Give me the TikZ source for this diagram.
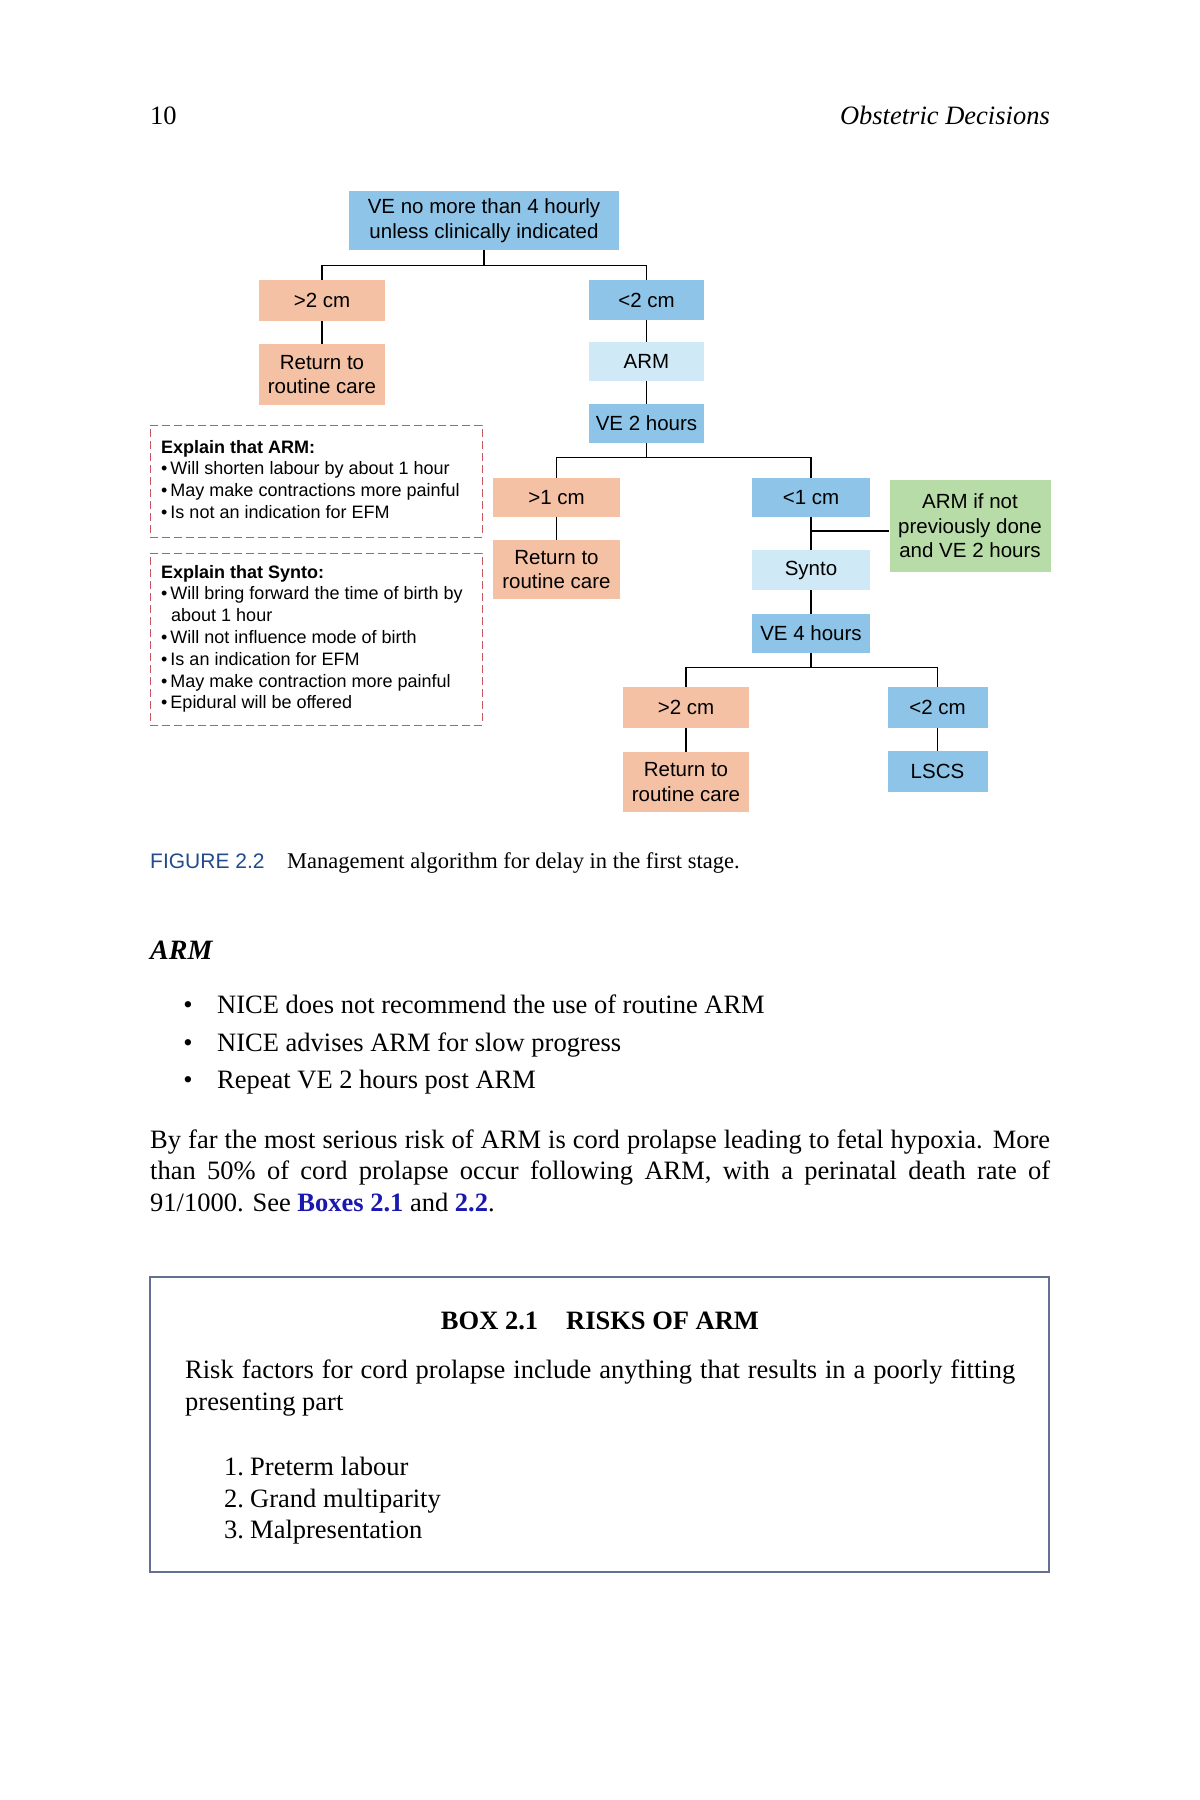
\documentclass[tikz,border=0pt]{standalone}
\usepackage{fontspec}
\setmainfont{Liberation Serif}
\newfontfamily\diagfont{Liberation Sans}
\definecolor{bbox}{RGB}{141,196,232}
\definecolor{sbox}{RGB}{244,193,165}
\definecolor{lbox}{RGB}{207,233,246}
\definecolor{gbox}{RGB}{184,220,167}
\definecolor{dashred}{RGB}{200,85,95}
\definecolor{figblue}{RGB}{35,75,140}
\definecolor{linkblue}{RGB}{25,25,175}
\definecolor{boxframe}{RGB}{100,112,145}
\begin{document}
\begin{tikzpicture}[x=1pt,y=-1pt,
  dbox/.style={inner sep=0pt, align=center, font=\diagfont\fontsize{20.5}{24.5}\selectfont, text=black},
  blueb/.style={dbox, fill=bbox},
  salb/.style={dbox, fill=sbox},
  lightb/.style={dbox, fill=lbox},
  greenb/.style={dbox, fill=gbox},
  conn/.style={draw=black, line width=1.3pt},
  dashbox/.style={draw=dashred, line width=1pt, dash pattern=on 8pt off 4pt, inner sep=0pt},
  note/.style={anchor=base west, inner sep=0pt, font=\diagfont\fontsize{18}{21.8}\selectfont},
  body/.style={inner sep=0pt, font=\fontsize{26.5}{31.6}\selectfont}
]
\fill[white] (0,0) rectangle (1200,1800);
\useasboundingbox (0,0) rectangle (1200,1800);

% header
\node[body, anchor=base west] (pgnum) at (150,124) {10};
\node[body, anchor=base east, font=\itshape\fontsize{26.5}{30}\selectfont] (runhead) at (1050,124) {Obstetric Decisions};

% flowchart boxes
\node[blueb, minimum width=270pt, minimum height=59pt] (top) at (484,220.5) {VE no more than 4 hourly\\unless clinically indicated};
\node[salb, minimum width=126pt, minimum height=41pt] (la) at (322,300.5) {>2 cm};
\node[salb, minimum width=126pt, minimum height=61pt] (lb) at (322,374.5) {Return to\\routine care};
\node[blueb, minimum width=115pt, minimum height=40pt] (ra) at (646.5,300) {<2 cm};
\node[lightb, minimum width=115pt, minimum height=39pt] (rb) at (646.5,361.5) {ARM};
\node[blueb, minimum width=115pt, minimum height=39pt] (rc) at (646.5,423.5) {VE 2 hours};
\node[salb, minimum width=127pt, minimum height=39pt] (ma) at (556.5,497.5) {>1 cm};
\node[salb, minimum width=127pt, minimum height=59pt] (mb) at (556.5,569.5) {Return to\\routine care};
\node[blueb, minimum width=118pt, minimum height=39pt] (na) at (811,497.5) {<1 cm};
\node[greenb, minimum width=161pt, minimum height=92pt] (gr) at (970,526) {ARM if not\\previously done\\and VE 2 hours};
\node[lightb, minimum width=118pt, minimum height=40pt] (syn) at (811,570) {Synto};
\node[blueb, minimum width=118pt, minimum height=39pt] (ve4) at (811,633.5) {VE 4 hours};
\node[salb, minimum width=126pt, minimum height=41pt] (pa) at (686,707.5) {>2 cm};
\node[salb, minimum width=126pt, minimum height=60pt] (pb) at (686,782) {Return to\\routine care};
\node[blueb, minimum width=100pt, minimum height=41pt] (qa) at (937.5,707.5) {<2 cm};
\node[blueb, minimum width=100pt, minimum height=41pt] (qb) at (937.5,771.5) {LSCS};

% connectors
\coordinate (j1) at (484,266);
\coordinate (j2) at (646.5,458);
\coordinate (j3) at (811,668);
\coordinate (gj) at (811,531);
\draw[conn] (top.south) -- (j1);
\draw[conn] (la.north) -- ++(0,-14) -| (ra.north);
\draw[conn] (la) -- (lb);
\draw[conn] (ra) -- (rb);
\draw[conn] (rb) -- (rc);
\draw[conn] (rc.south) -- (j2);
\draw[conn] (ma.north) -- ++(0,-20) -| (na.north);
\draw[conn] (ma) -- (mb);
\draw[conn] (na) -- (syn);
\draw[conn] (gj) -- (gj -| gr.west);
\draw[conn] (syn) -- (ve4);
\draw[conn] (ve4.south) -- (j3);
\draw[conn] (pa.north) -- ++(0,-19) -| (qa.north);
\draw[conn] (pa) -- (pb);
\draw[conn] (qa) -- (qb);

% dashed explanation boxes
\node[dashbox, minimum width=332pt, minimum height=112pt] (exarm) at (316,481) {};
\node[dashbox, minimum width=332pt, minimum height=172pt] (exsyn) at (316,639) {};
\node[note] (a0) at (161,453) {\bfseries Explain that ARM:};
\node[note] (a1) at (161,474.8) {•\hspace{3pt}Will shorten labour by about 1 hour};
\node[note] (a2) at (161,496.6) {•\hspace{3pt}May make contractions more painful};
\node[note] (a3) at (161,518.4) {•\hspace{3pt}Is not an indication for EFM};
\node[note] (s0) at (161,578.1) {\bfseries Explain that Synto:};
\node[note] (s1) at (161,599.9) {•\hspace{3pt}Will bring forward the time of birth by};
\node[note] (s2) at (171,621.7) {about 1 hour};
\node[note] (s3) at (161,643.5) {•\hspace{3pt}Will not influence mode of birth};
\node[note] (s4) at (161,665.3) {•\hspace{3pt}Is an indication for EFM};
\node[note] (s5) at (161,687.1) {•\hspace{3pt}May make contraction more painful};
\node[note] (s6) at (161,708.9) {•\hspace{3pt}Epidural will be offered};

% caption
\node[anchor=base west, inner sep=0pt, font=\diagfont\fontsize{21}{25}\selectfont, text=figblue] (figlab) at (150,868) {FIGURE 2.2};
\node[anchor=base west, inner sep=0pt, font=\fontsize{22.5}{27}\selectfont] (figcap) at (287,868) {Management algorithm for delay in the first stage.};

% ARM section
\node[anchor=base west, inner sep=0pt, font=\bfseries\itshape\fontsize{28}{32}\selectfont] (armhead) at (150,959) {ARM};
\node[body, anchor=base] (bu1) at (188,1013.6) {•};
\node[body, anchor=base west] (t1) at (217,1013.6) {NICE does not recommend the use of routine ARM};
\node[body, anchor=base] (bu2) at (188,1051) {•};
\node[body, anchor=base west] (t2) at (217,1051) {NICE advises ARM for slow progress};
\node[body, anchor=base] (bu3) at (188,1088) {•};
\node[body, anchor=base west] (t3) at (217,1088) {Repeat VE 2 hours post ARM};

\node[body, anchor=north west, text width=900pt, align=justify] (para) at (150,1128) {\rule{0pt}{20pt}By far the most serious risk of ARM is cord prolapse leading to fetal hypoxia. More\linebreak than 50\% of cord prolapse occur following ARM, with a perinatal death rate of\linebreak 91/1000. See {\bfseries\color{linkblue}Boxes 2.1} and {\bfseries\color{linkblue}2.2}.};

% Box 2.1
\node[draw=boxframe, line width=1.1pt, minimum width=899pt, minimum height=295pt, inner sep=0pt] (box21) at (599.5,1424.5) {};
\node[body, anchor=base, font=\bfseries\fontsize{26.5}{31.6}\selectfont] (boxtitle) at (600,1329) {BOX 2.1\hspace{28pt}RISKS OF ARM};
\node[body, anchor=north west, text width=830pt, align=justify, font=\fontsize{26.5}{32}\selectfont] (boxtext) at (185,1358.5) {\rule{0pt}{20pt}Risk factors for cord prolapse include anything that results in a poorly fitting presenting part};
\node[body, anchor=base west] (li1) at (224,1475) {\makebox[26pt][l]{1.}Preterm labour};
\node[body, anchor=base west] (li2) at (224,1507) {\makebox[26pt][l]{2.}Grand multiparity};
\node[body, anchor=base west] (li3) at (224,1538) {\makebox[26pt][l]{3.}Malpresentation};
\end{tikzpicture}
\end{document}
